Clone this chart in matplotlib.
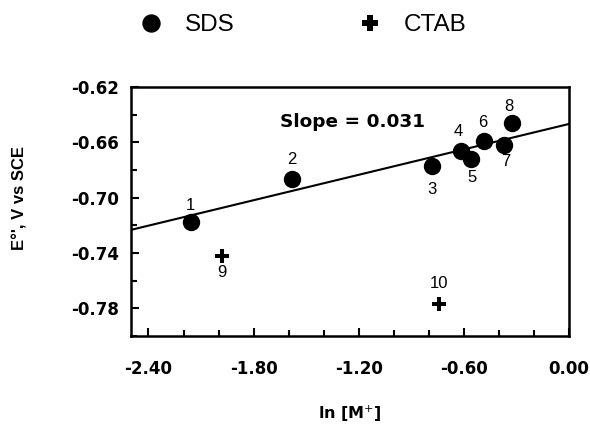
import matplotlib
matplotlib.use('Agg')
import matplotlib.pyplot as plt
from matplotlib.lines import Line2D
from matplotlib.ticker import MultipleLocator, FormatStrFormatter

plt.rcParams['font.family'] = ['Liberation Sans', 'DejaVu Sans']

# SDS points (1-8)
sds_x = [-2.158, -1.582, -0.782, -0.613, -0.560, -0.484, -0.370, -0.323]
sds_y = [-0.7176, -0.6863, -0.6771, -0.6660, -0.6723, -0.6590, -0.6622, -0.6463]
sds_lab = ['1', '2', '3', '4', '5', '6', '7', '8']
sds_off = [(0, 12), (0, 13.5), (0, -17), (-2, 13.5), (1, -13), (-1, 13.5), (1.5, -12), (-2.5, 12)]

# CTAB points (9, 10)
ctab_x = [-1.983, -0.740]
ctab_y = [-0.742, -0.777]
ctab_lab = ['9', '10']
ctab_off = [(0, -12), (0, 15)]

# fit line through the SDS data
slope = 0.0306
intercept = -0.6468
line_x = [-2.5, 0.0]

bold_font = {'family': 'DejaVu Sans', 'weight': 'bold'}

fig = plt.figure(figsize=(5.9, 4.24), dpi=100)
ax = fig.add_axes([0.222, 0.2075, 0.742, 0.5875])

ax.plot(line_x, [intercept + slope * v for v in line_x], color='black', lw=1.5, zorder=2)
ax.plot(sds_x, sds_y, 'o', color='black', ms=11.5, zorder=3)
ax.plot(ctab_x, ctab_y, 'P', color='black', ms=10, mew=0, zorder=3)

for x, y, t, off in zip(sds_x + ctab_x, sds_y + ctab_y, sds_lab + ctab_lab, sds_off + ctab_off):
    ax.annotate(t, (x, y), xytext=off, textcoords='offset points',
                ha='center', va='center', fontsize=12)

ax.text(-1.651, -0.6453, 'Slope = 0.031', fontsize=13.3, fontdict=bold_font,
        ha='left', va='center')

ax.set_xlim(-2.5, 0.0)
ax.set_ylim(-0.80, -0.62)
ax.xaxis.set_minor_locator(MultipleLocator(0.2))
ax.yaxis.set_minor_locator(MultipleLocator(0.02))
ax.set_xticks([-2.4, -1.8, -1.2, -0.6, 0.0])
ax.set_yticks([-0.78, -0.74, -0.70, -0.66, -0.62])
ax.xaxis.set_major_formatter(FormatStrFormatter('%.2f'))
ax.yaxis.set_major_formatter(FormatStrFormatter('%.2f'))
ax.tick_params(which='both', direction='in', width=1.5, top=False, right=False)
ax.tick_params(which='major', length=6, labelsize=12)
ax.tick_params(which='minor', length=4)
ax.tick_params(axis='x', which='major', pad=17)
ax.tick_params(axis='y', which='major', pad=8.6)
for lbl in ax.get_xticklabels() + ax.get_yticklabels():
    lbl.set_family('DejaVu Sans')
    lbl.set_fontweight('bold')
for s in ax.spines.values():
    s.set_linewidth(1.8)

ax.set_xlabel('ln [M$^{+}$]', fontsize=11.5, fontdict=bold_font)
ax.xaxis.set_label_coords(0.5, -0.27)
ax.set_ylabel("E°', V vs SCE", fontsize=12, fontweight='bold')
ax.yaxis.set_label_coords(-0.237, 0.554)

handles = [Line2D([], [], ls='none', marker='o', color='black', ms=12.2),
           Line2D([], [], ls='none', marker='P', color='black', ms=12, mew=0)]
fig.legend(handles, ['SDS', 'CTAB'], loc='center', bbox_to_anchor=(0.513, 0.941),
           ncol=2, frameon=False, fontsize=17.5, columnspacing=5.1,
           handlelength=1, handletextpad=0.86)

fig.savefig('out.png', dpi=100)
